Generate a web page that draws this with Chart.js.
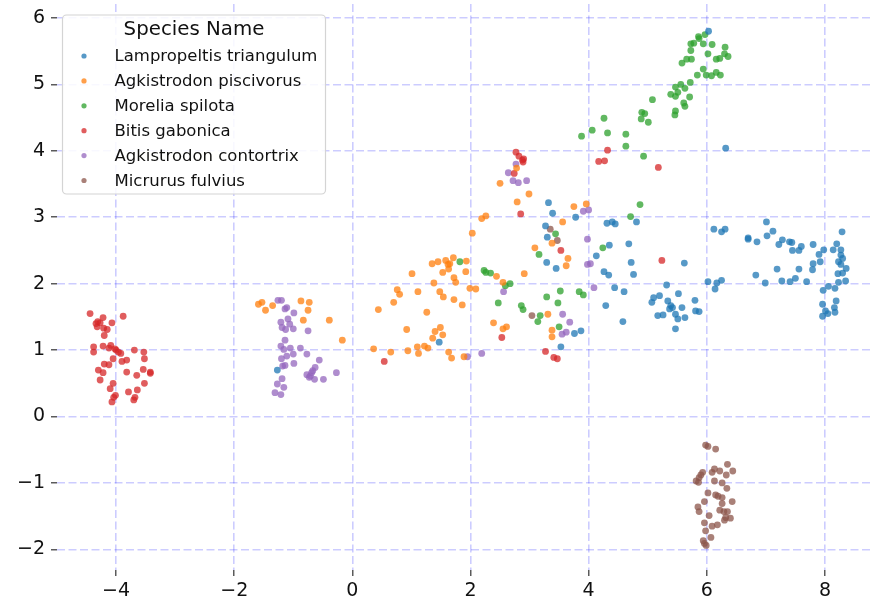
<!DOCTYPE html>
<html>
<head>
<meta charset="utf-8">
<script src="https://cdn.jsdelivr.net/npm/chart.js@4/dist/chart.umd.min.js"></script>
<style>
  html, body { margin: 0; padding: 0; background: #fff; }
  #wrap { width: 875px; height: 606px; }
</style>
</head>
<body>
<div id="wrap"><canvas id="species-scatter" width="875" height="606"></canvas></div>
<script>
let species = ["Lampropeltis triangulum", "Agkistrodon piscivorus", "Morelia spilota",
               "Bitis gabonica", "Agkistrodon contortrix", "Micrurus fulvius"];

let lampropeltis = [
  [-1.27,0.70],[1.47,1.12],[3.32,3.22],[3.39,3.06],[3.78,3.00],[3.27,2.87],[3.30,2.70],[4.13,2.42],
  [4.31,2.91],[4.35,2.58],[3.29,2.32],[3.45,2.23],[4.26,2.18],[4.34,2.13],[4.29,1.67],[3.76,1.25],
  [3.87,1.29],[3.53,1.05],[4.40,2.93],[4.45,2.90],[4.81,2.93],[4.68,2.60],[4.72,2.32],[5.62,2.31],
  [4.76,2.14],[5.32,1.98],[4.44,1.94],[4.60,1.88],[5.10,1.79],[5.20,1.82],[5.07,1.72],[5.52,1.85],
  [5.34,1.74],[5.39,1.67],[5.37,1.62],[5.42,1.64],[5.58,1.64],[5.80,1.75],[5.81,1.59],[5.87,1.58],
  [5.47,1.54],[5.17,1.52],[5.26,1.53],[5.51,1.47],[5.63,1.49],[4.58,1.43],[5.47,1.32],[6.02,2.03],
  [6.17,2.01],[6.25,2.05],[6.14,1.92],[6.12,2.82],[6.25,2.78],[6.31,2.82],[7.01,2.93],[6.70,2.69],
  [6.70,2.67],[6.85,2.63],[7.02,2.72],[7.12,2.79],[7.22,2.59],[7.28,2.66],[7.40,2.63],[7.44,2.62],
  [7.60,2.56],[7.56,2.50],[7.45,2.50],[7.80,2.59],[7.90,2.44],[7.98,2.51],[8.14,2.51],[8.20,2.60],
  [8.27,2.51],[8.29,2.78],[8.27,2.43],[8.23,2.33],[8.30,2.38],[8.27,2.29],[8.36,2.23],[8.30,2.16],
  [8.22,2.15],[8.35,2.04],[8.23,2.02],[8.17,1.93],[8.19,1.74],[8.06,1.96],[7.97,1.90],[7.96,1.69],
  [8.01,1.59],[8.05,1.55],[7.96,1.51],[8.16,1.64],[8.17,1.57],[7.80,2.30],[7.92,2.33],[7.79,2.21],
  [7.56,2.22],[7.19,2.22],[6.83,2.13],[7.50,2.08],[7.41,2.03],[7.27,2.04],[6.99,2.01],[7.69,2.03],
  [6.03,5.80],[6.32,4.04]
];

let piscivorus = [
  [-1.59,1.69],[-1.53,1.72],[-1.35,1.67],[-1.47,1.60],[-0.87,1.74],[-0.73,1.72],[-0.75,1.60],[-0.83,1.45],
  [-0.39,1.45],[-0.17,1.15],[0.44,1.61],[0.70,1.72],[0.76,1.91],[0.80,1.84],[1.01,2.15],[1.11,1.88],
  [1.26,1.57],[0.92,1.31],[0.36,1.02],[0.65,0.97],[0.94,0.99],[1.10,1.05],[1.12,0.95],[1.22,1.06],
  [1.28,1.03],[1.36,1.18],[1.40,1.28],[1.49,1.34],[1.53,1.23],[1.63,0.97],[1.68,0.88],[1.89,0.90],
  [1.35,2.30],[1.45,2.33],[1.58,2.35],[1.62,2.29],[1.65,2.30],[1.71,2.39],[1.63,2.22],[1.53,2.17],
  [1.93,2.34],[1.92,2.18],[1.72,2.09],[1.75,2.02],[1.38,2.01],[1.48,1.88],[1.54,1.80],[1.72,1.76],
  [1.86,1.68],[1.99,1.93],[2.09,1.92],[2.78,3.74],[2.50,3.51],[2.99,3.35],[2.79,3.23],[2.19,2.98],
  [2.26,3.02],[2.03,2.76],[3.75,3.16],[3.96,3.20],[3.56,2.93],[3.38,2.61],[3.09,2.54],[3.65,2.38],
  [3.62,2.27],[2.91,2.15],[2.44,2.11],[2.55,2.02],[3.31,1.54],[2.39,1.41],[2.55,1.32],[2.61,1.35],
  [3.38,1.30],[3.38,1.20]
];

let morelia = [
  [1.82,2.33],[3.44,2.75],[3.16,2.44],[4.24,2.54],[2.23,2.20],[2.26,2.17],[2.34,2.16],[2.59,1.97],
  [2.67,2.00],[2.47,1.71],[2.86,1.67],[2.89,1.61],[3.29,1.80],[3.52,1.89],[3.48,1.71],[3.18,1.52],
  [3.14,1.43],[3.84,1.88],[3.91,1.83],[3.50,1.35],[4.87,3.19],[4.71,3.01],[4.93,3.92],
  [5.86,5.72],[5.87,5.69],[5.97,5.75],[5.73,5.61],[5.78,5.62],[5.94,5.61],[6.09,5.60],[5.73,5.51],
  [6.31,5.56],[6.02,5.46],[6.30,5.46],[6.36,5.42],[6.16,5.38],[6.22,5.39],[5.66,5.38],[5.74,5.38],
  [5.58,5.32],[5.94,5.23],[5.84,5.14],[5.99,5.14],[6.08,5.13],[6.16,5.18],[6.23,5.14],[5.72,5.03],
  [5.56,5.00],[5.47,4.96],[5.63,4.94],[5.51,4.88],[5.39,4.85],[5.47,4.82],[5.71,4.81],[5.61,4.72],
  [5.63,4.67],[5.47,4.60],[5.46,4.54],[5.08,4.77],[4.90,4.58],[4.95,4.56],[4.89,4.48],[5.01,4.43],
  [4.26,4.49],[4.06,4.31],[4.32,4.27],[3.88,4.22],[4.63,4.25],[4.63,4.07]
];

let bitis = [
  [-4.44,1.55],[-3.88,1.51],[-4.22,1.49],[-4.31,1.43],[-4.34,1.40],[-4.27,1.41],[-4.07,1.41],[-4.32,1.35],
  [-4.21,1.33],[-4.15,1.31],[-4.20,1.22],[-4.38,1.05],[-4.22,1.06],[-4.09,1.07],[-4.12,1.03],[-4.02,1.02],
  [-4.00,1.00],[-3.96,0.97],[-3.92,0.95],[-3.69,1.00],[-3.53,0.97],[-4.38,0.97],[-3.52,0.87],[-4.05,0.87],
  [-3.90,0.83],[-3.82,0.85],[-4.20,0.79],[-4.12,0.78],[-4.30,0.70],[-3.54,0.71],[-3.82,0.67],[-3.42,0.67],
  [-3.42,0.65],[-4.22,0.66],[-3.65,0.62],[-4.27,0.55],[-3.52,0.50],[-4.05,0.50],[-4.10,0.42],[-3.64,0.40],
  [-3.79,0.37],[-4.01,0.32],[-4.04,0.29],[-3.68,0.29],[-3.70,0.25],[-4.07,0.22],
  [0.54,0.83],[2.77,3.98],[2.82,3.92],[2.90,3.88],[2.88,3.86],[2.89,3.83],[2.74,3.66],[4.17,3.84],
  [4.27,3.85],[4.32,4.01],[2.85,3.05],[3.53,2.50],[2.53,1.19],[3.27,0.98],[3.41,0.89],[3.47,0.87],
  [5.24,2.35],[5.18,3.75]
];

let contortrix = [
  [-1.26,1.75],[-1.20,1.75],[-1.14,1.62],[-1.11,1.64],[-0.99,1.56],[-1.09,1.47],[-1.21,1.42],[-1.06,1.39],
  [-1.19,1.34],[-1.13,1.31],[-1.00,1.32],[-0.75,1.29],[-1.14,1.15],[-1.21,1.06],[-1.16,1.01],[-1.05,1.03],
  [-0.88,1.03],[-1.00,0.94],[-1.11,0.91],[-0.77,0.94],[-1.20,0.87],[-0.56,0.85],[-0.99,0.80],[-1.14,0.77],
  [-1.18,0.76],[-0.63,0.74],[-0.67,0.69],[-0.69,0.66],[-0.27,0.66],[-0.77,0.63],[-0.71,0.61],[-0.73,0.59],
  [-0.64,0.56],[-0.49,0.56],[-1.19,0.57],[-1.27,0.49],[-1.16,0.44],[-1.31,0.36],[-1.21,0.33],
  [1.95,0.90],[2.77,3.80],[2.64,3.67],[2.72,3.55],[2.81,3.52],[2.95,3.55],[3.91,3.09],[4.00,3.11],
  [3.98,2.67],[2.56,1.88],[3.98,2.29],[4.03,2.30],[4.09,1.94],[3.56,1.54],[3.68,1.42],[3.62,1.27],
  [3.55,1.24],[2.19,0.95]
];

let micrurus = [
  [5.98,-0.43],[6.02,-0.45],[6.15,-0.49],[6.35,-0.72],[6.44,-0.82],[6.13,-0.79],[6.09,-0.84],[6.22,-0.82],
  [6.33,-0.88],[5.93,-0.84],[5.90,-0.88],[5.87,-0.92],[5.82,-0.97],[5.86,-0.99],[6.13,-0.97],[6.26,-1.00],
  [6.34,-1.08],[6.02,-1.15],[6.15,-1.18],[6.19,-1.20],[6.26,-1.22],[5.96,-1.28],[6.43,-1.28],[6.26,-1.31],
  [5.85,-1.36],[5.87,-1.43],[6.22,-1.41],[6.29,-1.43],[6.35,-1.43],[6.04,-1.49],[6.32,-1.52],[6.40,-1.53],
  [6.30,-1.56],[5.96,-1.60],[6.09,-1.65],[6.18,-1.63],[5.98,-1.72],[6.07,-1.82],[5.94,-1.87],[5.96,-1.91],
  [5.99,-1.94],[3.35,2.82],[3.47,2.65],[3.04,1.52]
];

let xTicks = [-4, -2, 0, 2, 4, 6, 8];
let yTicks = [-2, -1, 0, 1, 2, 3, 4, 5, 6];

let series = [lampropeltis, piscivorus, morelia, bitis, contortrix, micrurus];
let colors = ["31,119,180", "255,127,14", "44,160,44", "214,39,40", "148,103,189", "140,86,75"];

let font = "'DejaVu Sans', sans-serif";

let datasets = series.map(function (pts, i) {
  return {
    label: species[i],
    data: pts.map(function (p) { return { x: p[0], y: p[1] }; }),
    backgroundColor: "rgba(" + colors[i] + ",0.75)",
    borderWidth: 0,
    pointRadius: 3.4
  };
});

// legend drawn in the upper left of the plot, like the matplotlib one
let speciesLegend = {
  id: "speciesLegend",
  afterDraw: function (chart) {
    let ctx = chart.ctx;
    let x0 = 62.5, y0 = 15, w = 263, h = 179, r = 4;
    ctx.save();
    ctx.beginPath();
    ctx.roundRect(x0, y0, w, h, r);
    ctx.fillStyle = "rgba(255,255,255,0.85)";
    ctx.fill();
    ctx.strokeStyle = "#d4d4d4";
    ctx.lineWidth = 1.2;
    ctx.stroke();

    ctx.fillStyle = "#111";
    ctx.textBaseline = "middle";
    ctx.textAlign = "center";
    ctx.font = "19.8px " + font;
    ctx.fillText("Species Name", x0 + w / 2, 30);

    ctx.textAlign = "left";
    ctx.font = "16.5px " + font;
    chart.data.datasets.forEach(function (ds, i) {
      let yy = 56 + i * 24.9;
      ctx.beginPath();
      ctx.arc(84, yy, 2.6, 0, Math.PI * 2);
      ctx.fillStyle = ds.backgroundColor;
      ctx.fill();
      ctx.fillStyle = "#111";
      ctx.fillText(ds.label, 114.5, yy + 1);
    });
    ctx.restore();
  }
};

function axisOpts(min, max, ticks, isY) {
  return {
    type: "linear",
    min: min,
    max: max,
    border: { display: false, dash: [8, 3.5] },
    grid: {
      color: "rgba(0,0,255,0.2)",
      lineWidth: 1.6,
      drawTicks: true,
      tickLength: 6,
      tickColor: "#333",
      tickWidth: 1.2
    },
    ticks: {
      color: "#111",
      padding: isY ? 6 : 4,
      font: { family: font, size: 19 },
      callback: function (v) { return String(v).replace("-", "\u2212"); }
    },
    afterBuildTicks: function (scale) {
      scale.ticks = ticks.map(function (v) { return { value: v }; });
    },
    afterFit: function (scale) {
      if (isY) scale.width = 57;
      else scale.height = 36;
      // labels may overhang the plot edges, as in matplotlib
      scale.paddingTop = 0;
      scale.paddingBottom = 0;
      scale.paddingLeft = 0;
      scale.paddingRight = 0;
    }
  };
}

new Chart(document.getElementById("species-scatter"), {
  type: "scatter",
  data: { datasets: datasets },
  options: {
    responsive: false,
    animation: false,
    devicePixelRatio: 1,
    layout: { padding: { top: 4, right: 0, bottom: 0, left: 0 } },
    scales: {
      x: axisOpts(-5.0, 8.78, xTicks, false),
      y: axisOpts(-2.31, 6.21, yTicks, true)
    },
    plugins: {
      legend: { display: false },
      tooltip: { enabled: false }
    }
  },
  plugins: [speciesLegend]
});
</script>
</body>
</html>
